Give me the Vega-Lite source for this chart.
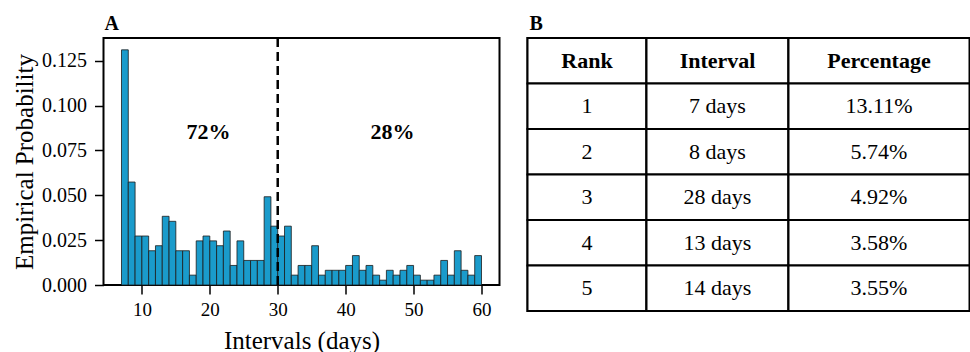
{
  "$schema": "https://vega.github.io/schema/vega-lite/v6.json",
  "autosize": {"type": "pad"},
  "padding": {"left": 11.5, "top": 12, "right": 0, "bottom": 0},
  "background": "white",
  "config": {
    "font": "Liberation Serif",
    "view": {"stroke": "black", "strokeWidth": 2},
    "axis": {
      "labelFont": "Liberation Serif", "titleFont": "Liberation Serif",
      "labelColor": "black", "titleColor": "black", "tickColor": "black",
      "grid": false, "domain": false, "labelFontSize": 19, "titleFontSize": 25,
      "titleFontWeight": "normal", "tickSize": 9, "tickWidth": 1.5, "labelPadding": 6
    },
    "title": {"font": "Liberation Serif", "fontSize": 20, "fontWeight": "bold", "color": "black",
      "anchor": "start", "frame": "group", "baseline": "alphabetic", "offset": 3}
  },
  "datasets": {
    "hist": [
      {"start": 7, "end": 8, "p": 0.1311}, {"start": 8, "end": 9, "p": 0.0574},
      {"start": 9, "end": 10, "p": 0.0273}, {"start": 10, "end": 11, "p": 0.0273},
      {"start": 11, "end": 12, "p": 0.0191}, {"start": 12, "end": 13, "p": 0.0219},
      {"start": 13, "end": 14, "p": 0.0383}, {"start": 14, "end": 15, "p": 0.0355},
      {"start": 15, "end": 16, "p": 0.0191}, {"start": 16, "end": 17, "p": 0.0191},
      {"start": 17, "end": 18, "p": 0.0055}, {"start": 18, "end": 19, "p": 0.0246},
      {"start": 19, "end": 20, "p": 0.0273}, {"start": 20, "end": 21, "p": 0.0246},
      {"start": 21, "end": 22, "p": 0.0219}, {"start": 22, "end": 23, "p": 0.0301},
      {"start": 23, "end": 24, "p": 0.0109}, {"start": 24, "end": 25, "p": 0.0246},
      {"start": 25, "end": 26, "p": 0.0137}, {"start": 26, "end": 27, "p": 0.0137},
      {"start": 27, "end": 28, "p": 0.0137}, {"start": 28, "end": 29, "p": 0.0492},
      {"start": 29, "end": 30, "p": 0.0328}, {"start": 30, "end": 31, "p": 0.0273},
      {"start": 31, "end": 32, "p": 0.0328}, {"start": 32, "end": 33, "p": 0.0055},
      {"start": 33, "end": 34, "p": 0.0109}, {"start": 34, "end": 35, "p": 0.0109},
      {"start": 35, "end": 36, "p": 0.0219}, {"start": 36, "end": 37, "p": 0.0055},
      {"start": 37, "end": 38, "p": 0.0082}, {"start": 38, "end": 39, "p": 0.0082},
      {"start": 39, "end": 40, "p": 0.0082}, {"start": 40, "end": 41, "p": 0.0109},
      {"start": 41, "end": 42, "p": 0.0164}, {"start": 42, "end": 43, "p": 0.0082},
      {"start": 43, "end": 44, "p": 0.0109}, {"start": 44, "end": 45, "p": 0.0055},
      {"start": 45, "end": 46, "p": 0.0027}, {"start": 46, "end": 47, "p": 0.0082},
      {"start": 47, "end": 48, "p": 0.0055}, {"start": 48, "end": 49, "p": 0.0082},
      {"start": 49, "end": 50, "p": 0.0109}, {"start": 50, "end": 51, "p": 0.0055},
      {"start": 51, "end": 52, "p": 0.0027}, {"start": 52, "end": 53, "p": 0.0027},
      {"start": 53, "end": 54, "p": 0.0055}, {"start": 54, "end": 55, "p": 0.0137},
      {"start": 55, "end": 56, "p": 0.0055}, {"start": 56, "end": 57, "p": 0.0191},
      {"start": 57, "end": 58, "p": 0.0082}, {"start": 58, "end": 59, "p": 0.0055},
      {"start": 59, "end": 60, "p": 0.0164}
    ],
    "labels": [
      {"label": "72%", "x": 19.8, "y": 0.0855},
      {"label": "28%", "x": 46.9, "y": 0.0855}
    ],
    "table": [
      {"col": "Rank", "row": 0, "text": "Rank"},
      {"col": "Rank", "row": 1, "text": "1"},
      {"col": "Rank", "row": 2, "text": "2"},
      {"col": "Rank", "row": 3, "text": "3"},
      {"col": "Rank", "row": 4, "text": "4"},
      {"col": "Rank", "row": 5, "text": "5"},
      {"col": "Interval", "row": 0, "text": "Interval"},
      {"col": "Interval", "row": 1, "text": "7 days"},
      {"col": "Interval", "row": 2, "text": "8 days"},
      {"col": "Interval", "row": 3, "text": "28 days"},
      {"col": "Interval", "row": 4, "text": "13 days"},
      {"col": "Interval", "row": 5, "text": "14 days"},
      {"col": "Percentage", "row": 0, "text": "Percentage"},
      {"col": "Percentage", "row": 1, "text": "13.11%"},
      {"col": "Percentage", "row": 2, "text": "5.74%"},
      {"col": "Percentage", "row": 3, "text": "4.92%"},
      {"col": "Percentage", "row": 4, "text": "3.58%"},
      {"col": "Percentage", "row": 5, "text": "3.55%"}
    ]
  },
  "spacing": 28,
  "bounds": "flush",
  "hconcat": [
    {
      "width": 396,
      "height": 247,
      "title": {"text": "A", "dx": 1},
      "layer": [
        {
          "data": {"name": "hist"},
          "mark": {"type": "rect", "fill": "#1a9bcb", "stroke": "#1c1c1c", "strokeWidth": 0.8},
          "encoding": {
            "x": {"field": "start", "type": "quantitative",
              "scale": {"domain": [4.35, 62.65], "nice": false, "zero": false},
              "axis": {"values": [10, 20, 30, 40, 50, 60], "format": "d", "title": "Intervals (days)", "titlePadding": 9}},
            "x2": {"field": "end"},
            "y": {"field": "p", "type": "quantitative",
              "scale": {"domain": [0, 0.1377], "nice": false},
              "axis": {"values": [0, 0.025, 0.05, 0.075, 0.1, 0.125], "format": ".3f", "title": "Empirical Probability", "titlePadding": 4, "labelFontSize": 20, "labelPadding": 8}},
            "y2": {"datum": 0}
          }
        },
        {
          "data": {"values": [{"x": 30}]},
          "mark": {"type": "rule", "strokeDash": [9, 5], "strokeWidth": 2.5, "color": "black"},
          "encoding": {"x": {"field": "x", "type": "quantitative"}}
        },
        {
          "data": {"name": "labels"},
          "mark": {"type": "text", "fontSize": 22, "fontWeight": "bold", "color": "black", "font": "Liberation Serif"},
          "encoding": {
            "x": {"field": "x", "type": "quantitative"},
            "y": {"field": "y", "type": "quantitative"},
            "text": {"field": "label"}
          }
        }
      ]
    },
    {
      "data": {"name": "table"},
      "spacing": 0,
      "bounds": "flush",
      "hconcat": [
        {
          "width": 119, "height": 273,
          "title": {"text": "B", "dx": 2},
          "transform": [{"filter": "datum.col == 'Rank'"}],
          "encoding": {"y": {"field": "row", "type": "ordinal", "axis": null, "scale": {"paddingInner": 0, "paddingOuter": 0}}},
          "layer": [
            {"mark": {"type": "rect", "fill": "white", "stroke": "black", "strokeWidth": 2}},
            {"transform": [{"filter": "datum.row == 0"}], "mark": {"type": "text", "fontSize": 22, "fontWeight": "bold", "color": "black", "font": "Liberation Serif"}, "encoding": {"text": {"field": "text"}}},
            {"transform": [{"filter": "datum.row > 0"}], "mark": {"type": "text", "fontSize": 22, "color": "black", "font": "Liberation Serif"}, "encoding": {"text": {"field": "text"}}}
          ]
        },
        {
          "width": 142, "height": 273,
          "transform": [{"filter": "datum.col == 'Interval'"}],
          "encoding": {"y": {"field": "row", "type": "ordinal", "axis": null, "scale": {"paddingInner": 0, "paddingOuter": 0}}},
          "layer": [
            {"mark": {"type": "rect", "fill": "white", "stroke": "black", "strokeWidth": 2}},
            {"transform": [{"filter": "datum.row == 0"}], "mark": {"type": "text", "fontSize": 22, "fontWeight": "bold", "color": "black", "font": "Liberation Serif"}, "encoding": {"text": {"field": "text"}}},
            {"transform": [{"filter": "datum.row > 0"}], "mark": {"type": "text", "fontSize": 22, "color": "black", "font": "Liberation Serif"}, "encoding": {"text": {"field": "text"}}}
          ]
        },
        {
          "width": 181, "height": 273,
          "transform": [{"filter": "datum.col == 'Percentage'"}],
          "encoding": {"y": {"field": "row", "type": "ordinal", "axis": null, "scale": {"paddingInner": 0, "paddingOuter": 0}}},
          "layer": [
            {"mark": {"type": "rect", "fill": "white", "stroke": "black", "strokeWidth": 2}},
            {"transform": [{"filter": "datum.row == 0"}], "mark": {"type": "text", "fontSize": 22, "fontWeight": "bold", "color": "black", "font": "Liberation Serif"}, "encoding": {"text": {"field": "text"}}},
            {"transform": [{"filter": "datum.row > 0"}], "mark": {"type": "text", "fontSize": 22, "color": "black", "font": "Liberation Serif"}, "encoding": {"text": {"field": "text"}}}
          ]
        }
      ]
    }
  ]
}
